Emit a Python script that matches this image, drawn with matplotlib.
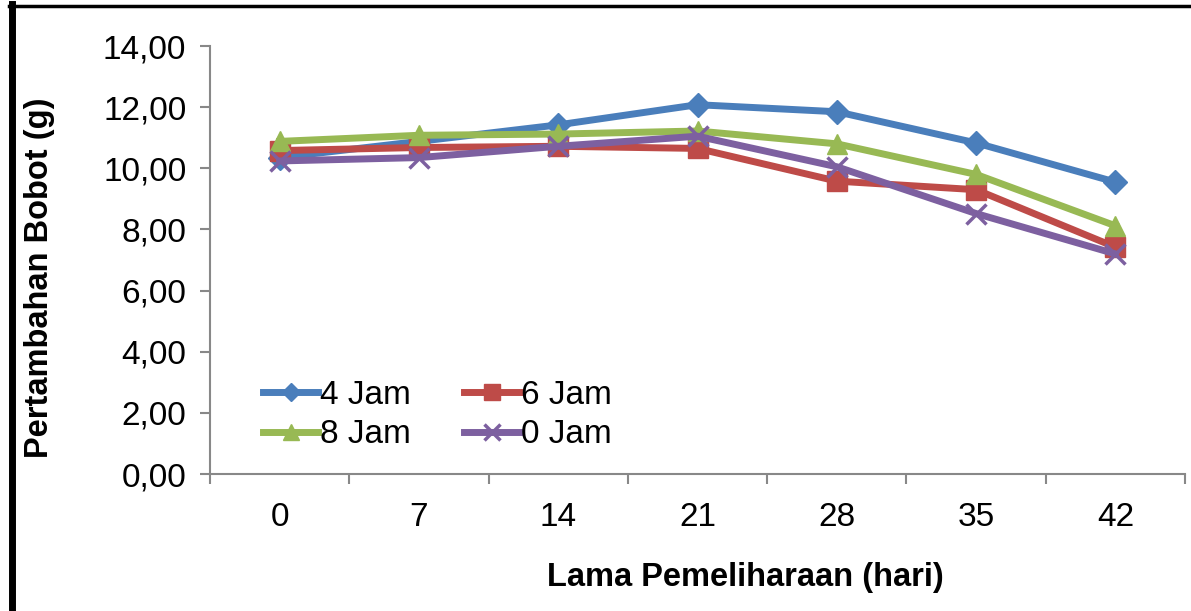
import numpy as np
import matplotlib.pyplot as plt

plt.rcParams['font.family'] = ['Liberation Sans', 'DejaVu Sans']

# hari pemeliharaan
hari = ['0', '7', '14', '21', '28', '35', '42']
jam4 = [10.35, 10.88, 11.42, 12.08, 11.85, 10.83, 9.55]
jam6 = [10.58, 10.68, 10.72, 10.65, 9.58, 9.30, 7.42]
jam8 = [10.88, 11.08, 11.12, 11.22, 10.80, 9.80, 8.12]
jam0 = [10.24, 10.35, 10.72, 11.05, 10.05, 8.52, 7.20]

fig = plt.figure(figsize=(11.91, 6.11), dpi=100)
ax = fig.add_axes([0.1763, 0.2242, 0.8187, 0.7005])

x = np.arange(len(hari))
lw = 5
l4, = ax.plot(x, jam4, color='#4A7EBB', lw=lw, marker='D', ms=12, label='4 Jam')
l6, = ax.plot(x, jam6, color='#BE4B48', lw=lw, marker='s', ms=14, label='6 Jam')
l8, = ax.plot(x, jam8, color='#98B954', lw=lw, marker='^', ms=15, label='8 Jam')
l0, = ax.plot(x, jam0, color='#7D60A0', lw=lw, marker='x', ms=14, mew=2.5, label='0 Jam')

ax.set_ylim(0, 14)
ax.set_xlim(-0.5, len(hari) - 0.5)
ax.set_yticks(np.arange(0, 15, 2))
ax.set_yticklabels([f'{v:.2f}'.replace('.', ',') for v in np.arange(0, 15, 2)])

# tick marks between categories, labels at the centres
ax.set_xticks(np.arange(-0.5, len(hari), 1))
ax.set_xticklabels([])
ax.set_xticks(x, minor=True)
ax.set_xticklabels(hari, minor=True)
ax.tick_params(axis='x', which='minor', length=0, pad=20, labelsize=24)
ax.tick_params(axis='x', which='major', length=7, color='#888888', width=1.5)
ax.tick_params(axis='y', length=7, color='#888888', width=1.5, labelsize=24, pad=10)

for s in ['top', 'right']:
    ax.spines[s].set_visible(False)
for s in ['left', 'bottom']:
    ax.spines[s].set_color('#888888')
    ax.spines[s].set_linewidth(1.5)

ax.set_xlabel('Lama Pemeliharaan (hari)', fontsize=23.5, fontweight='bold')
ax.set_ylabel('Pertambahan Bobot (g)', fontsize=23.5, fontweight='bold')
ax.xaxis.set_label_coords(0.549, -0.205)
ax.yaxis.set_label_coords(-0.159, 0.458)

ax.legend([l4, l8, l6, l0], ['4 Jam', '8 Jam', '6 Jam', '0 Jam'],
          loc='lower left', bbox_to_anchor=(0.041, 0.024), ncol=2, frameon=False,
          fontsize=24, handlelength=1.65, handletextpad=0.05, columnspacing=1.6,
          labelspacing=0.25, borderaxespad=0, markerscale=0.8)

# black frame lines at left and top of the picture
fig.add_artist(plt.Line2D([0.0097, 0.0097], [0, 0.993], color='black', lw=5))
fig.add_artist(plt.Line2D([0.0077, 1], [0.9903, 0.9903], color='black', lw=2.5))

fig.savefig('out.png', dpi=100)
